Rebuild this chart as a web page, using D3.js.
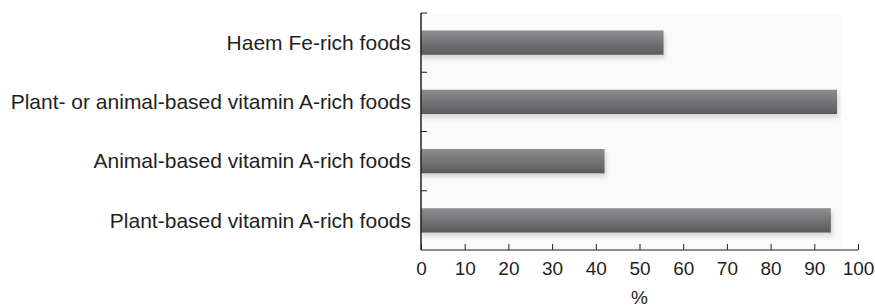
<!DOCTYPE html>
<html>
<head>
<meta charset="utf-8">
<script src="https://cdn.jsdelivr.net/npm/d3@7"></script>
<style>
  body { margin: 0; background: #fff; }
  text { font-family: "Liberation Sans", Arial, sans-serif; fill: #231f20; }
</style>
</head>
<body>
<script>
// chart data, top to bottom
var categories = [
  "Haem Fe-rich foods",
  "Plant- or animal-based vitamin A-rich foods",
  "Animal-based vitamin A-rich foods",
  "Plant-based vitamin A-rich foods"
];
var values = [55.5, 95.2, 42, 93.8];
var xTicks = [0, 10, 20, 30, 40, 50, 60, 70, 80, 90, 100];

var w = 875, h = 308;
// note: "top" is a reserved window prop, so use plot* names
var plotL = 421, plotR = 858, plotT = 13, plotB = 250;

var svg = d3.select("body").append("svg")
  .attr("width", w)
  .attr("height", h);

var defs = svg.append("defs");
var grad = defs.append("linearGradient")
  .attr("id", "barGrad")
  .attr("x1", 0).attr("y1", 0).attr("x2", 0).attr("y2", 1);
grad.append("stop").attr("offset", "0%").attr("stop-color", "#8e8e90");
grad.append("stop").attr("offset", "100%").attr("stop-color", "#5a5a5c");

var blur = defs.append("filter").attr("id", "shadow")
  .attr("x", "-5%").attr("y", "-50%").attr("width", "110%").attr("height", "200%");
blur.append("feGaussianBlur").attr("stdDeviation", 2);

var x = d3.scaleLinear().domain([0, 100]).range([plotL, plotR]);
var y = d3.scaleBand().domain(categories).range([plotT, plotB]).padding(0);
var barH = y.bandwidth() * 0.41;

// faint plot panel
svg.append("rect")
  .attr("x", plotL).attr("y", plotT)
  .attr("width", 841 - plotL).attr("height", plotB - plotT)
  .attr("fill", "#fafafa");

// bar shadows
svg.append("g").selectAll("rect")
  .data(values)
  .join("rect")
  .attr("x", x(0))
  .attr("y", function(d, i){ return y(categories[i]) + (y.bandwidth() - barH) / 2 + 4; })
  .attr("width", function(d){ return x(d) - x(0) + 2; })
  .attr("height", barH)
  .attr("fill", "#d8d8d8")
  .attr("filter", "url(#shadow)");

// bars
svg.append("g").selectAll("rect")
  .data(values)
  .join("rect")
  .attr("x", x(0))
  .attr("y", function(d, i){ return y(categories[i]) + (y.bandwidth() - barH) / 2; })
  .attr("width", function(d){ return x(d) - x(0); })
  .attr("height", barH)
  .attr("fill", "url(#barGrad)");

// x axis, ticks pointing up
var xAxis = svg.append("g")
  .attr("transform", "translate(0," + plotB + ")")
  .call(d3.axisBottom(x).tickValues(xTicks).tickSize(-6).tickPadding(12));
xAxis.select(".domain").attr("d", "M" + plotL + ",0H" + plotR).attr("stroke", "#231f20");
xAxis.selectAll(".tick line").attr("stroke", "#231f20");
xAxis.selectAll("text").style("font-size", "19px").attr("fill", "#231f20");

// y axis with ticks between categories
var yAx = svg.append("g");
yAx.append("line")
  .attr("x1", plotL).attr("x2", plotL)
  .attr("y1", plotT).attr("y2", plotB)
  .attr("stroke", "#231f20").attr("stroke-width", 1.5);
yAx.selectAll(".yt")
  .data(categories)
  .join("line")
  .attr("class", "yt")
  .attr("x1", plotL).attr("x2", plotL + 6)
  .attr("y1", function(d){ return y(d); })
  .attr("y2", function(d){ return y(d); })
  .attr("stroke", "#231f20");
yAx.selectAll("text")
  .data(categories)
  .join("text")
  .attr("x", plotL - 10)
  .attr("y", function(d){ return y(d) + y.bandwidth() / 2; })
  .attr("dy", "0.35em")
  .attr("text-anchor", "end")
  .style("font-size", "21px")
  .text(function(d){ return d; });

// axis title
svg.append("text")
  .attr("x", (plotL + plotR) / 2)
  .attr("y", 304)
  .attr("text-anchor", "middle")
  .style("font-size", "19px")
  .text("%");
</script>
</body>
</html>
